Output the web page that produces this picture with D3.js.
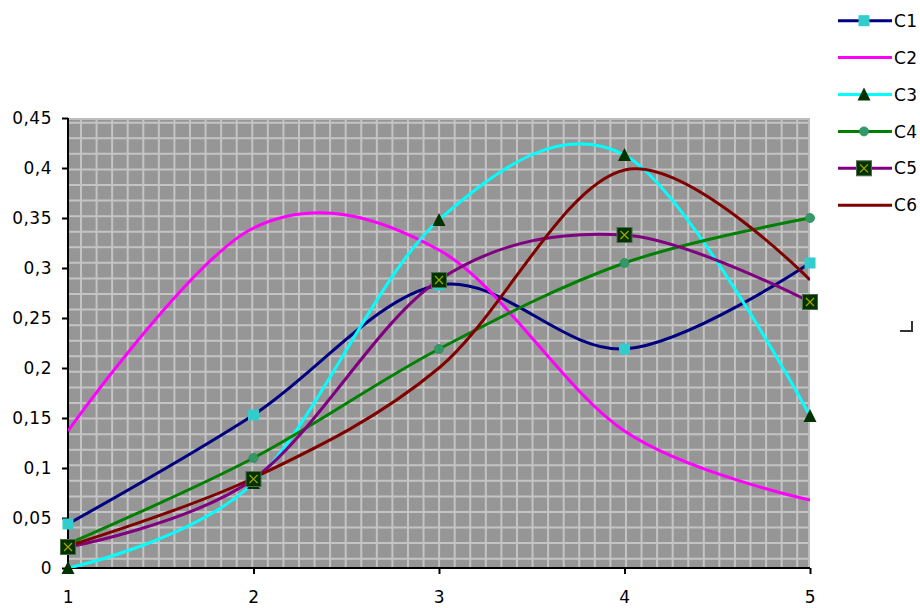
<!DOCTYPE html>
<html>
<head>
<meta charset="utf-8">
<script src="https://cdn.jsdelivr.net/npm/d3@7"></script>
<style>
  html, body { margin: 0; padding: 0; background: #ffffff; }
  svg { display: block; }
  text { font-family: "DejaVu Sans", "Liberation Sans", Arial, sans-serif; fill: #000; }
</style>
</head>
<body>
<svg id="chart" width="920" height="608"></svg>
<script>
// Categories along the x axis
const categories = [1, 2, 3, 4, 5];

// Series values
const c1 = [0.044, 0.153, 0.283, 0.219, 0.305];
const c2 = [0.137, 0.340, 0.318, 0.137, 0.068];
const c3 = [0.000, 0.085, 0.348, 0.413, 0.152];
const c4 = [0.024, 0.110, 0.219, 0.305, 0.350];
const c5 = [0.021, 0.089, 0.288, 0.333, 0.266];
const c6 = [0.022, 0.090, 0.200, 0.398, 0.288];

const seriesNames = ["C1", "C2", "C3", "C4", "C5", "C6"];

// Value axis ticks and their labels (decimal comma)
const yTicks = [0, 0.05, 0.1, 0.15, 0.2, 0.25, 0.3, 0.35, 0.4, 0.45];
const yTickLabels = ["0", "0,05", "0,1", "0,15", "0,2", "0,25", "0,3", "0,35", "0,4", "0,45"];
const xTickLabels = ["1", "2", "3", "4", "5"];

const seriesValues = [c1, c2, c3, c4, c5, c6];

// Line colour and marker style per series
const styles = [
  { color: "#000080", marker: "square" },
  { color: "#ff00ff", marker: "none" },
  { color: "#00ffff", marker: "triangle" },
  { color: "#008000", marker: "dot" },
  { color: "#800080", marker: "xbox" },
  { color: "#800000", marker: "none" }
];

const FONT = "'DejaVu Sans', 'Liberation Sans', Arial, sans-serif";

const svg = d3.select("#chart");
const plot = { left: 68, right: 810, top: 118, bottom: 568 };

const x = d3.scaleLinear().domain([1, 5]).range([plot.left, plot.right]);
const y = d3.scaleLinear().domain([0, 0.45]).range([plot.bottom, plot.top]);

// Plot area: grey fill with a light grid pattern
svg.append("rect")
  .attr("x", plot.left).attr("y", plot.top)
  .attr("width", plot.right - plot.left).attr("height", plot.bottom - plot.top)
  .attr("fill", "#969696");

svg.append("clipPath").attr("id", "plotClip")
  .append("rect")
  .attr("x", plot.left).attr("y", plot.top)
  .attr("width", plot.right - plot.left).attr("height", plot.bottom - plot.top);

const grid = svg.append("g").attr("clip-path", "url(#plotClip)")
  .attr("stroke", "#c4c4c4").attr("stroke-width", 2);
const step = 15.57;
d3.range(81, plot.right, step).forEach(gx => {
  grid.append("line").attr("x1", gx).attr("x2", gx)
    .attr("y1", plot.top).attr("y2", plot.bottom);
});
d3.range(138.3 - step, plot.bottom - 4, step).forEach(gy => {
  grid.append("line").attr("y1", gy).attr("y2", gy)
    .attr("x1", plot.left).attr("x2", plot.right);
});
// light frame on top and right edges
svg.append("path")
  .attr("d", `M${plot.left},${plot.top + 1}H${plot.right - 1}V${plot.bottom}`)
  .attr("fill", "none").attr("stroke", "#bdbdbd").attr("stroke-width", 2);

// Axes
const yAxis = d3.axisLeft(y)
  .tickValues(yTicks)
  .tickFormat((d, i) => yTickLabels[i])
  .tickSize(6).tickPadding(10);
const xAxis = d3.axisBottom(x)
  .tickValues(categories)
  .tickFormat((d, i) => xTickLabels[i])
  .tickSize(6).tickPadding(17);

const gy = svg.append("g").attr("transform", `translate(${plot.left},0)`).call(yAxis);
const gx = svg.append("g").attr("transform", `translate(0,${plot.bottom})`).call(xAxis);
[gy, gx].forEach(g => {
  g.select(".domain").attr("stroke", "#000").attr("stroke-width", 2);
  g.selectAll(".tick line").attr("stroke", "#000").attr("stroke-width", 2);
  g.selectAll(".tick text")
    .attr("font-family", FONT)
    .attr("font-size", 17).attr("letter-spacing", 0.5).attr("fill", "#000");
});
gy.select(".domain").attr("d", `M0,${plot.bottom}V${plot.top}`);
gx.select(".domain").attr("d", `M${plot.left},0H${plot.right}`);

// Series lines (smoothed)
const line = d3.line()
  .x((d, i) => x(categories[i]))
  .y(d => y(d))
  .curve(d3.curveCardinal.tension(0));

const lines = svg.append("g").attr("clip-path", "url(#plotClip)");
seriesValues.forEach((vals, s) => {
  lines.append("path")
    .datum(vals)
    .attr("d", line)
    .attr("fill", "none")
    .attr("stroke", styles[s].color)
    .attr("stroke-width", 3)
    .attr("stroke-linejoin", "round");
});

// Marker drawing
function drawMarker(g, type, cx, cy) {
  if (type === "square") {
    g.append("rect").attr("x", cx - 5.5).attr("y", cy - 5.5)
      .attr("width", 11).attr("height", 11).attr("fill", "#33cccc");
  } else if (type === "triangle") {
    g.append("path")
      .attr("d", `M${cx},${cy - 7}L${cx + 6.5},${cy + 6}L${cx - 6.5},${cy + 6}Z`)
      .attr("fill", "#003300");
  } else if (type === "dot") {
    g.append("circle").attr("cx", cx).attr("cy", cy).attr("r", 4.5)
      .attr("fill", "#339966").attr("stroke", "#2a8a5a").attr("stroke-width", 0.8);
  } else if (type === "xbox") {
    g.append("rect").attr("x", cx - 7.5).attr("y", cy - 7.5)
      .attr("width", 15).attr("height", 15)
      .attr("fill", "#003300").attr("stroke", "#4d6b4d").attr("stroke-width", 1);
    g.append("path")
      .attr("d", `M${cx - 4},${cy - 4}L${cx + 4},${cy + 4}M${cx + 4},${cy - 4}L${cx - 4},${cy + 4}`)
      .attr("stroke", "#a6a600").attr("stroke-width", 1.2);
  }
}

const markers = svg.append("g");
seriesValues.forEach((vals, s) => {
  if (styles[s].marker === "none") return;
  vals.forEach((v, i) => drawMarker(markers, styles[s].marker, x(categories[i]), y(v)));
});

// Legend
const legend = svg.append("g");
const legendTop = 20.7, legendStep = 36.9;
seriesNames.forEach((name, s) => {
  const ly = legendTop + s * legendStep;
  legend.append("line")
    .attr("x1", 838).attr("x2", 892).attr("y1", ly).attr("y2", ly)
    .attr("stroke", styles[s].color).attr("stroke-width", 3);
  drawMarker(legend, styles[s].marker, 864, ly);
  legend.append("text")
    .attr("x", 894).attr("y", ly).attr("dy", "0.36em")
    .attr("font-family", FONT)
    .attr("font-size", 17).attr("letter-spacing", 0.5)
    .text(name);
});

// small corner mark to the right of the plot
svg.append("path")
  .attr("d", "M900,331H912V321")
  .attr("fill", "none").attr("stroke", "#333").attr("stroke-width", 2);
</script>
</body>
</html>
